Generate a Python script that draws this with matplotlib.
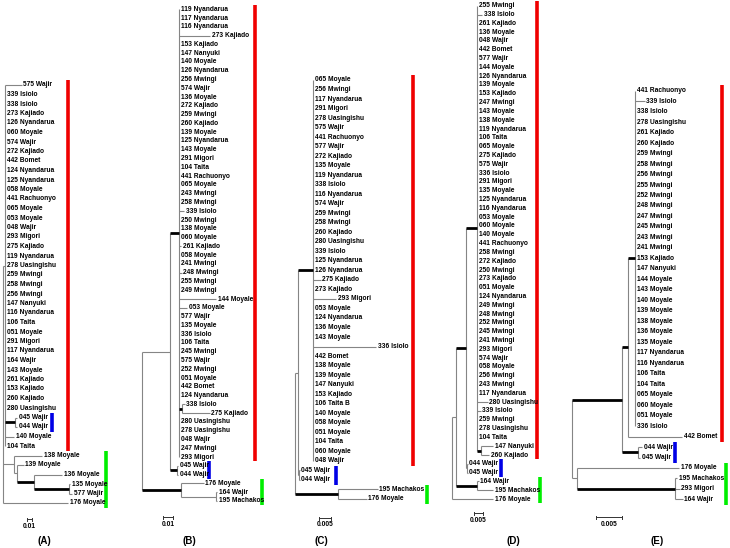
import matplotlib
matplotlib.use("Agg")
import matplotlib.pyplot as plt
from matplotlib import font_manager

# ---------------- DATA ----------------
# Trees in Newick; branch lengths in substitutions/site; internal label "T" = thick (supported) stem
TREE_A = ("((575 Wajir:0.033,339 Isiolo:0,338 Isiolo:0,273 Kajiado:0,126 Nyandarua:0,060 Moyale:0,"
          "574 Wajir:0,272 Kajiado:0,442 Bomet:0,124 Nyandarua:0,125 Nyandarua:0,058 Moyale:0,"
          "441 Rachuonyo:0,065 Moyale:0,053 Moyale:0,048 Wajir:0,293 Migori:0,275 Kajiado:0,"
          "119 Nyandarua:0,278 Uasingishu:0,259 Mwingi:0,258 Mwingi:0,256 Mwingi:0,147 Nanyuki:0,"
          "116 Nyandarua:0,106 Taita:0,051 Moyale:0,291 Migori:0,117 Nyandarua:0,164 Wajir:0,"
          "143 Moyale:0,261 Kajiado:0,153 Kajiado:0,260 Kajiado:0,280 Uasingishu:0,"
          "(045 Wajir:0.005,044 Wajir:0.005)T:0.019,140 Moyale:0.018,104 Taita:0):0.004,"
          "(138 Moyale:0.057,(139 Moyale:0.013,(136 Moyale:0.057,(135 Moyale:0.003,577 Wajir:0.007)T:0.07)T:0.033):0.007):0.021,"
          "176 Moyale:0.13);")

TREE_B = ("(((119 Nyandarua:0,117 Nyandarua:0,116 Nyandarua:0,273 Kajiado:0.031,153 Kajiado:0,147 Nanyuki:0,"
          "140 Moyale:0,126 Nyandarua:0,256 Mwingi:0,574 Wajir:0,136 Moyale:0,272 Kajiado:0,259 Mwingi:0,"
          "260 Kajiado:0,139 Moyale:0,125 Nyandarua:0,143 Moyale:0,291 Migori:0,104 Taita:0,441 Rachuonyo:0,"
          "065 Moyale:0,243 Mwingi:0,258 Mwingi:0,339 Isiolo:0.005,250 Mwingi:0,138 Moyale:0,060 Moyale:0,"
          "261 Kajiado:0.002,058 Moyale:0,241 Mwingi:0,248 Mwingi:0.0025,255 Mwingi:0,249 Mwingi:0,"
          "144 Moyale:0.037,053 Moyale:0.008,577 Wajir:0,135 Moyale:0,336 Isiolo:0,106 Taita:0,245 Mwingi:0,"
          "575 Wajir:0,252 Mwingi:0,051 Moyale:0,442 Bomet:0,124 Nyandarua:0,"
          "(338 Isiolo:0.003,275 Kajiado:0.028)T:0.0024,280 Uasingishu:0,278 Uasingishu:0,048 Wajir:0,"
          "247 Mwingi:0,293 Migori:0)T:0.0093,(045 Wajir:0.0013,044 Wajir:0.0013)T:0.0067):0.0283,"
          "(176 Moyale:0.023,(164 Wajir:0.001,195 Machakos:0.001):0.0353)T:0.039);")

TREE_C = ("(((065 Moyale:0,256 Mwingi:0,117 Nyandarua:0,291 Migori:0,278 Uasingishu:0,575 Wajir:0,"
          "441 Rachuonyo:0,577 Wajir:0,272 Kajiado:0,135 Moyale:0,119 Nyandarua:0,338 Isiolo:0,"
          "116 Nyandarua:0,574 Wajir:0,259 Mwingi:0,258 Mwingi:0,260 Kajiado:0,280 Uasingishu:0,"
          "339 Isiolo:0,125 Nyandarua:0,126 Nyandarua:0,275 Kajiado:0.0031,273 Kajiado:0,293 Migori:0.0095,"
          "053 Moyale:0,124 Nyandarua:0,136 Moyale:0,143 Moyale:0,336 Isiolo:0.0263,442 Bomet:0,"
          "138 Moyale:0,139 Moyale:0,147 Nanyuki:0,153 Kajiado:0,106 Taita B:0,140 Moyale:0,058 Moyale:0,"
          "051 Moyale:0,104 Taita:0,060 Moyale:0,048 Wajir:0)T:0.0065,"
          "(045 Wajir:0.0003,044 Wajir:0.0003):0.0006):0.0011,"
          "(195 Machakos:0.0165,176 Moyale:0.0119)T:0.018);")

TREE_D = ("((((255 Mwingi:0,338 Isiolo:0.0029,261 Kajiado:0,136 Moyale:0,048 Wajir:0,442 Bomet:0,577 Wajir:0,"
          "144 Moyale:0,126 Nyandarua:0,139 Moyale:0,153 Kajiado:0,247 Mwingi:0,143 Moyale:0,138 Moyale:0,"
          "119 Nyandarua:0,106 Taita:0,065 Moyale:0,275 Kajiado:0,575 Wajir:0,336 Isiolo:0,291 Migori:0,"
          "135 Moyale:0,125 Nyandarua:0,116 Nyandarua:0,053 Moyale:0,060 Moyale:0,140 Moyale:0,"
          "441 Rachuonyo:0,258 Mwingi:0,272 Kajiado:0,250 Mwingi:0,273 Kajiado:0,051 Moyale:0,"
          "124 Nyandarua:0,249 Mwingi:0,248 Mwingi:0,252 Mwingi:0,245 Mwingi:0,241 Mwingi:0,293 Migori:0,"
          "574 Wajir:0,058 Moyale:0,256 Mwingi:0,243 Mwingi:0,117 Nyandarua:0,280 Uasingishu:0.0057,"
          "339 Isiolo:0.0019,259 Mwingi:0,278 Uasingishu:0,104 Taita:0,"
          "(147 Nanyuki:0.0069,260 Kajiado:0.0046)T:0.0021)T:0.0064,"
          "(044 Wajir:0.0006,045 Wajir:0.0006):0.0006)T:0.0056,"
          "(164 Wajir:0.001,195 Machakos:0.0093)T:0.0117):0.0022,176 Moyale:0.0232);")

TREE_E = ("((((441 Rachuonyo:0,339 Isiolo:0.00175,338 Isiolo:0,278 Uasingishu:0,261 Kajiado:0,260 Kajiado:0,"
          "259 Mwingi:0,258 Mwingi:0,256 Mwingi:0,255 Mwingi:0,252 Mwingi:0,248 Mwingi:0,247 Mwingi:0,"
          "245 Mwingi:0,243 Mwingi:0,241 Mwingi:0,153 Kajiado:0,147 Nanyuki:0,144 Moyale:0,143 Moyale:0,"
          "140 Moyale:0,139 Moyale:0,138 Moyale:0,136 Moyale:0,135 Moyale:0,117 Nyandarua:0,"
          "116 Nyandarua:0,106 Taita:0,104 Taita:0,065 Moyale:0,060 Moyale:0,051 Moyale:0,336 Isiolo:0)T:0.0014,"
          "442 Bomet:0.0104)T:0.00115,(044 Wajir:0.0009,045 Wajir:0.0005)T:0.003)T:0.0097,"
          "(176 Moyale:0.0197,(195 Machakos:0.00035,293 Migori:0.00087,164 Wajir:0.00144)T:0.0189):0.001);")

TREES = [TREE_A, TREE_B, TREE_C, TREE_D, TREE_E]
PANEL_LABELS = ["(A)", "(B)", "(C)", "(D)", "(E)"]
SCALE_VALUES = [0.01, 0.01, 0.005, 0.005, 0.005]
SCALE_TEXT = ["0.01", "0.01", "0.005", "0.005", "0.005"]
# clade bars: (first tip index, last tip index, colour name)
CLADES_A = [(0, 38, "red"), (35, 36, "blue"), (39, 44, "green")]
CLADES_B = [(0, 51, "red"), (52, 53, "blue"), (54, 56, "green")]
CLADES_C = [(0, 40, "red"), (41, 42, "blue"), (43, 44, "green")]
CLADES_D = [(0, 51, "red"), (52, 53, "blue"), (54, 56, "green")]
CLADES_E = [(0, 33, "red"), (34, 35, "blue"), (36, 39, "green")]
CLADES = [CLADES_A, CLADES_B, CLADES_C, CLADES_D, CLADES_E]

# ---------------- LAYOUT (pixels) ----------------
W, H = 730, 548
# root x, px per unit, first tip y, tip spacing
PANEL_GEOM = [(3.3, 500, 85, 9.5), (141.7, 1000, 9.3, 8.78), (295, 2400, 80, 9.52),
              (451.7, 1800, 5.7, 8.81), (571.7, 5200, 90.7, 10.48)]
BAR_X = [{"red": 68, "blue": 52, "green": 106}, {"red": 255, "blue": 209, "green": 262},
         {"red": 413, "blue": 336, "green": 427}, {"red": 537, "blue": 501, "green": 540},
         {"red": 722, "blue": 675, "green": 726}]
SCALEBAR_POS = [(26.7, 519, 527), (163, 517, 524), (319, 518, 524), (474, 513, 521), (596, 517, 524)]
PANEL_LABEL_POS = [(44, 541), (189.5, 541), (321.5, 541), (513, 541), (657, 541)]
COLORS = {"red": "#f00000", "blue": "#0000e6", "green": "#00ee00"}
GREY = "#858585"

names = {f.name for f in font_manager.fontManager.ttflist}
FAMILY = "Liberation Sans" if "Liberation Sans" in names else "DejaVu Sans"


def parse_newick(s):
    s = s.strip().rstrip(";")
    pos = 0

    def node():
        nonlocal pos
        while s[pos] == " ":
            pos += 1
        n = {"children": [], "name": "", "len": 0.0}
        if s[pos] == "(":
            pos += 1
            while True:
                n["children"].append(node())
                if s[pos] == ",":
                    pos += 1
                    continue
                pos += 1  # ')'
                break
        st = pos
        while pos < len(s) and s[pos] not in ",():":
            pos += 1
        n["name"] = s[st:pos].strip()
        if pos < len(s) and s[pos] == ":":
            pos += 1
            st = pos
            while pos < len(s) and s[pos] not in ",()":
                pos += 1
            n["len"] = float(s[st:pos])
        return n

    return node()


def layout(n, x0, counter):
    n["x"] = x0 + n["len"]
    if not n["children"]:
        n["y"] = counter[0]
        counter[0] += 1
    else:
        for c in n["children"]:
            layout(c, n["x"], counter)
        n["y"] = (n["children"][0]["y"] + n["children"][-1]["y"]) / 2


def draw(ax, n, parent_x):
    thick = n["name"] == "T"
    if parent_x is not None and n["x"] > parent_x:
        ax.plot([parent_x, n["x"]], [n["y"], n["y"]], color="black" if thick else GREY,
                lw=2.0 if thick else 0.8, solid_capstyle="butt", zorder=3 if thick else 2)
    if n["children"]:
        ys = [c["y"] for c in n["children"]]
        ax.plot([n["x"], n["x"]], [min(ys), max(ys)], color=GREY, lw=0.8,
                solid_capstyle="butt", zorder=2)
        for c in n["children"]:
            draw(ax, c, n["x"])
    else:
        ax.annotate(n["name"], (n["x"], n["y"]), xytext=(1.1, 0), textcoords="offset points",
                    ha="left", va="center", fontsize=4.8, fontweight="bold", family=FAMILY,
                    color="black", zorder=4)


fig = plt.figure(figsize=(W / 100, H / 100), dpi=100)
fig.patch.set_facecolor("white")

for p in range(5):
    rx, sc, fy, st = PANEL_GEOM[p]
    ax = fig.add_axes([0, 0, 1, 1])
    ax.set_xlim(-rx / sc, (W - rx) / sc)
    ax.set_ylim((H - fy) / st, -fy / st)
    ax.axis("off")
    ax.patch.set_alpha(0)
    px2x = lambda px, rx=rx, sc=sc: (px - rx) / sc
    py2y = lambda py, fy=fy, st=st: (py - fy) / st

    root = parse_newick(TREES[p])
    layout(root, 0.0, [0])
    draw(ax, root, None)

    for (i0, i1, col) in CLADES[p]:
        bx = px2x(BAR_X[p][col])
        ax.plot([bx, bx], [i0 - 0.5, i1 + 0.5], color=COLORS[col], lw=2.6,
                solid_capstyle="butt", zorder=2)

    sx, sy, ly = SCALEBAR_POS[p]
    x0 = px2x(sx)
    x1 = x0 + SCALE_VALUES[p]
    yb = py2y(sy)
    tk = 1.5 / st
    ax.plot([x0, x1], [yb, yb], color="#333333", lw=0.7)
    ax.plot([x0, x0], [yb - tk, yb + tk], color="#333333", lw=0.7)
    ax.plot([x1, x1], [yb - tk, yb + tk], color="#333333", lw=0.7)
    ax.text((x0 + x1) / 2, py2y(ly), SCALE_TEXT[p], ha="center", va="center",
            fontsize=4.8, fontweight="bold", family=FAMILY)
    lx, lyy = PANEL_LABEL_POS[p]
    ax.text(px2x(lx), py2y(lyy), PANEL_LABELS[p], ha="center", va="center",
            fontsize=7, fontweight="bold", family=FAMILY)

fig.savefig("out.png", dpi=100, facecolor="white")
